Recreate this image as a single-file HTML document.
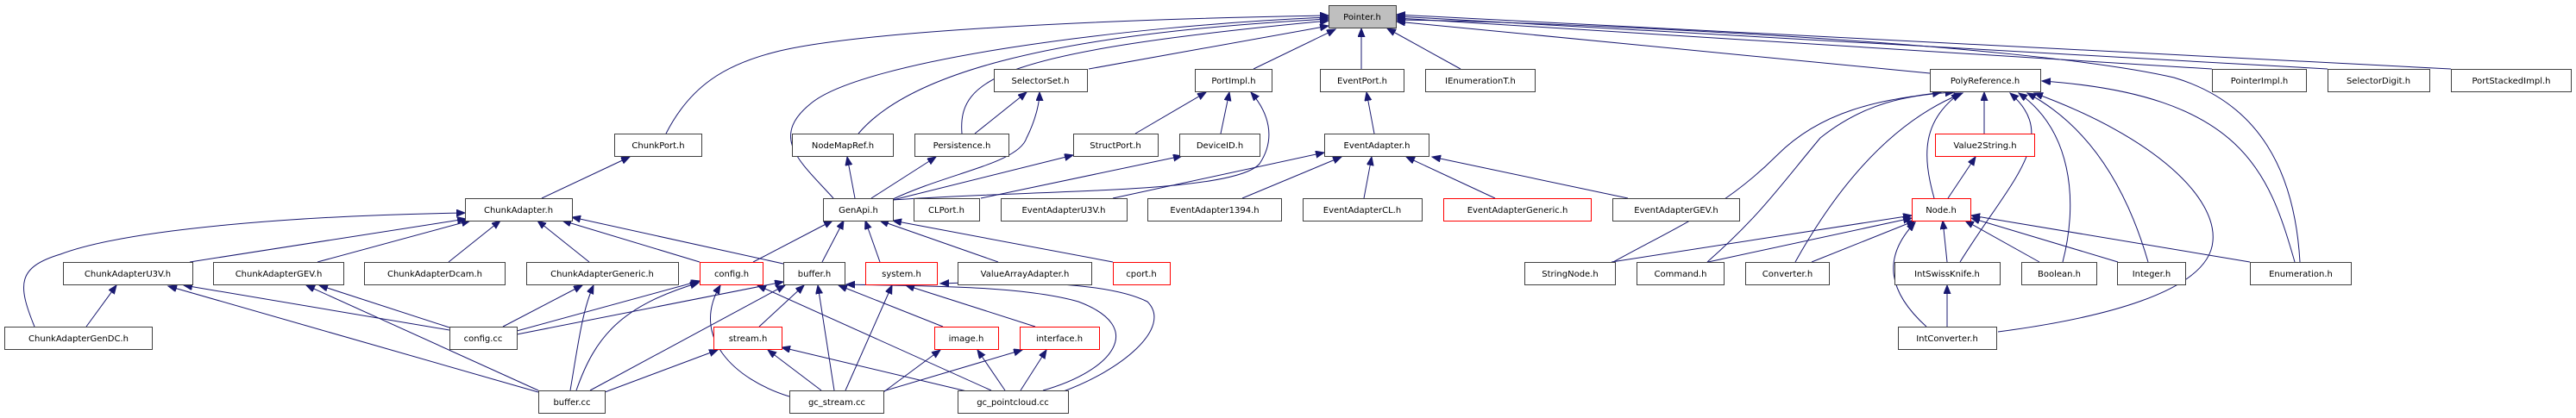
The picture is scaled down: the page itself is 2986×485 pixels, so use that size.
<!DOCTYPE html>
<html><head><meta charset="utf-8"><style>
html,body{margin:0;padding:0;background:#fff;}
svg{display:block;}
text{font-family:"DejaVu Sans","Liberation Sans",sans-serif;font-size:10px;fill:#000;}
.n{fill:#fff;stroke:#404040;stroke-width:1;}
.r{fill:#fff;stroke:#ff0000;stroke-width:1;}
.g{fill:#bfbfbf;stroke:#404040;stroke-width:1;}
path{fill:none;stroke:#191970;stroke-width:1;marker-end:url(#a);}
</style></head><body>
<svg width="2986" height="485" viewBox="0 0 2986 485" xmlns="http://www.w3.org/2000/svg">
<defs><marker id="a" markerUnits="userSpaceOnUse" markerWidth="12" markerHeight="10" refX="10" refY="4" orient="auto"><polygon points="0,0 10,4 0,8" fill="#191970" stroke="#191970"/></marker></defs>
<g>
<path d="M772,155 C800,100 840,75 900,60 C1000,35 1300,22 1540,18"/>
<path d="M966,230 C930,190 890,160 940,120 C1000,70 1300,30 1540,20"/>
<path d="M995,155 C1050,90 1200,40 1540,22"/>
<path d="M1115,155 C1110,90 1160,60 1540,24"/>
<path d="M1262,80 L1540,30"/>
<path d="M1453,80 L1548,34"/>
<path d="M1578,80 L1578,33"/>
<path d="M1693,80 L1608,33"/>
<path d="M2237,85 L1619,25"/>
<path d="M2564,80 L1619,21"/>
<path d="M2698,80 L1619,19"/>
<path d="M2841,80 L1619,17"/>
<path d="M2666,304 C2660,200 2620,120 2520,90 C2350,50 1800,25 1619,23"/>
<path d="M2660,304 C2630,200 2600,110 2367,94"/>
<path d="M1130,155 L1190,107"/>
<path d="M1033,232 C1100,200 1180,190 1190,160 C1200,140 1205,120 1205,107"/>
<path d="M1316,155 L1398,107"/>
<path d="M1415,155 L1425,107"/>
<path d="M1035,232 C1200,220 1430,225 1460,190 C1480,160 1470,130 1450,107"/>
<path d="M1137,230 L1370,181"/>
<path d="M1035,232 L1244,180"/>
<path d="M1290,230 L1535,177"/>
<path d="M1593,155 L1584,107"/>
<path d="M1440,230 L1555,182"/>
<path d="M1581,230 L1590,182"/>
<path d="M1733,230 L1630,182"/>
<path d="M1887,230 L1660,182"/>
<path d="M991,230 L982,182"/>
<path d="M1010,230 L1085,182"/>
<path d="M873,304 L965,256"/>
<path d="M953,304 L978,256"/>
<path d="M1020,304 L1003,256"/>
<path d="M1157,304 L1020,256"/>
<path d="M1290,304 L1035,256"/>
<path d="M628,230 L730,182"/>
<path d="M40,379 C20,330 20,310 70,295 C150,265 350,250 539,247"/>
<path d="M220,304 L540,254"/>
<path d="M368,304 L545,256"/>
<path d="M520,304 L580,256"/>
<path d="M683,304 L623,256"/>
<path d="M811,304 L652,256"/>
<path d="M908,306 L663,252"/>
<path d="M100,379 L135,331"/>
<path d="M521,383 L213,331"/>
<path d="M624,455 L195,332"/>
<path d="M521,380 L370,331"/>
<path d="M624,453 L355,331"/>
<path d="M583,379 L675,331"/>
<path d="M661,453 C670,400 675,360 688,331"/>
<path d="M599,384 L811,326"/>
<path d="M668,453 C690,390 720,355 810,328"/>
<path d="M915,460 C850,440 800,390 835,331"/>
<path d="M1149,453 L878,331"/>
<path d="M599,388 L908,327"/>
<path d="M684,453 L910,331"/>
<path d="M880,379 L932,331"/>
<path d="M967,453 L948,331"/>
<path d="M1093,379 L972,331"/>
<path d="M1209,453 C1290,430 1330,380 1250,350 C1180,330 1050,332 981,330"/>
<path d="M1230,455 C1300,430 1360,380 1330,350 C1290,330 1200,325 1090,329"/>
<path d="M980,453 L1034,331"/>
<path d="M1200,379 L1050,331"/>
<path d="M701,455 L832,406"/>
<path d="M952,453 L890,406"/>
<path d="M1125,455 L906,403"/>
<path d="M1024,455 L1090,406"/>
<path d="M1165,453 L1133,406"/>
<path d="M1010,458 L1185,406"/>
<path d="M1183,453 L1213,406"/>
<path d="M1870,304 C1950,260 2000,240 2060,180 C2120,120 2200,115 2250,107"/>
<path d="M1979,304 C2040,250 2060,220 2110,160 C2160,120 2210,110 2265,107"/>
<path d="M2081,304 C2150,180 2220,130 2275,108"/>
<path d="M2242,230 C2228,180 2228,140 2272,108"/>
<path d="M2272,304 C2330,210 2390,160 2330,108"/>
<path d="M2391,304 C2410,230 2400,150 2340,108"/>
<path d="M2490,304 C2460,200 2410,140 2350,108"/>
<path d="M2316,385 C2430,370 2560,340 2565,280 C2570,230 2500,160 2358,108"/>
<path d="M2300,155 L2300,107"/>
<path d="M2258,230 L2290,182"/>
<path d="M1868,304 L2216,250"/>
<path d="M1980,304 L2216,253"/>
<path d="M2100,304 L2220,256"/>
<path d="M2257,304 L2252,256"/>
<path d="M2364,304 L2278,256"/>
<path d="M2455,304 L2285,253"/>
<path d="M2608,304 L2285,250"/>
<path d="M2233,379 C2190,340 2180,300 2220,258"/>
<path d="M2257,379 L2257,331"/>
</g>
<g text-anchor="middle">
<rect class="g" x="1540.5" y="6.5" width="78" height="26"/><text x="1579" y="23">Pointer.h</text>
<rect class="n" x="1152.5" y="80.5" width="108" height="26"/><text x="1206" y="97">SelectorSet.h</text>
<rect class="n" x="1385.5" y="80.5" width="89" height="26"/><text x="1430" y="97">PortImpl.h</text>
<rect class="n" x="1530.5" y="80.5" width="97" height="26"/><text x="1579" y="97">EventPort.h</text>
<rect class="n" x="1652.5" y="80.5" width="127" height="26"/><text x="1716" y="97">IEnumerationT.h</text>
<rect class="n" x="2237.5" y="80.5" width="128" height="26"/><text x="2301" y="97">PolyReference.h</text>
<rect class="n" x="2564.5" y="80.5" width="109" height="26"/><text x="2619" y="97">PointerImpl.h</text>
<rect class="n" x="2698.5" y="80.5" width="118" height="26"/><text x="2757" y="97">SelectorDigit.h</text>
<rect class="n" x="2841.5" y="80.5" width="139" height="26"/><text x="2911" y="97">PortStackedImpl.h</text>
<rect class="n" x="712.5" y="155.5" width="101" height="26"/><text x="763" y="172">ChunkPort.h</text>
<rect class="n" x="918.5" y="155.5" width="117" height="26"/><text x="977" y="172">NodeMapRef.h</text>
<rect class="n" x="1060.5" y="155.5" width="109" height="26"/><text x="1115" y="172">Persistence.h</text>
<rect class="n" x="1244.5" y="155.5" width="98" height="26"/><text x="1293" y="172">StructPort.h</text>
<rect class="n" x="1367.5" y="155.5" width="93" height="26"/><text x="1414" y="172">DeviceID.h</text>
<rect class="n" x="1535.5" y="155.5" width="121" height="26"/><text x="1596" y="172">EventAdapter.h</text>
<rect class="r" x="2243.5" y="155.5" width="115" height="26"/><text x="2301" y="172">Value2String.h</text>
<rect class="n" x="539.5" y="230.5" width="124" height="26"/><text x="601" y="247">ChunkAdapter.h</text>
<rect class="n" x="954.5" y="230.5" width="81" height="26"/><text x="995" y="247">GenApi.h</text>
<rect class="n" x="1059.5" y="230.5" width="76" height="26"/><text x="1097" y="247">CLPort.h</text>
<rect class="n" x="1160.5" y="230.5" width="146" height="26"/><text x="1233" y="247">EventAdapterU3V.h</text>
<rect class="n" x="1330.5" y="230.5" width="155" height="26"/><text x="1408" y="247">EventAdapter1394.h</text>
<rect class="n" x="1510.5" y="230.5" width="138" height="26"/><text x="1579" y="247">EventAdapterCL.h</text>
<rect class="r" x="1673.5" y="230.5" width="171" height="26"/><text x="1759" y="247">EventAdapterGeneric.h</text>
<rect class="n" x="1869.5" y="230.5" width="147" height="26"/><text x="1943" y="247">EventAdapterGEV.h</text>
<rect class="r" x="2216.5" y="230.5" width="68" height="26"/><text x="2250" y="247">Node.h</text>
<rect class="n" x="73.5" y="304.5" width="150" height="26"/><text x="148" y="321">ChunkAdapterU3V.h</text>
<rect class="n" x="247.5" y="304.5" width="151" height="26"/><text x="323" y="321">ChunkAdapterGEV.h</text>
<rect class="n" x="422.5" y="304.5" width="163" height="26"/><text x="504" y="321">ChunkAdapterDcam.h</text>
<rect class="n" x="610.5" y="304.5" width="176" height="26"/><text x="698" y="321">ChunkAdapterGeneric.h</text>
<rect class="r" x="811.5" y="304.5" width="73" height="26"/><text x="848" y="321">config.h</text>
<rect class="n" x="908.5" y="304.5" width="71" height="26"/><text x="944" y="321">buffer.h</text>
<rect class="r" x="1003.5" y="304.5" width="83" height="26"/><text x="1045" y="321">system.h</text>
<rect class="n" x="1110.5" y="304.5" width="155" height="26"/><text x="1188" y="321">ValueArrayAdapter.h</text>
<rect class="r" x="1290.5" y="304.5" width="66" height="26"/><text x="1323" y="321">cport.h</text>
<rect class="n" x="1767.5" y="304.5" width="105" height="26"/><text x="1820" y="321">StringNode.h</text>
<rect class="n" x="1897.5" y="304.5" width="101" height="26"/><text x="1948" y="321">Command.h</text>
<rect class="n" x="2023.5" y="304.5" width="97" height="26"/><text x="2072" y="321">Converter.h</text>
<rect class="n" x="2196.5" y="304.5" width="122" height="26"/><text x="2257" y="321">IntSwissKnife.h</text>
<rect class="n" x="2343.5" y="304.5" width="87" height="26"/><text x="2387" y="321">Boolean.h</text>
<rect class="n" x="2454.5" y="304.5" width="79" height="26"/><text x="2494" y="321">Integer.h</text>
<rect class="n" x="2608.5" y="304.5" width="117" height="26"/><text x="2667" y="321">Enumeration.h</text>
<rect class="n" x="5.5" y="379.5" width="171" height="26"/><text x="91" y="396">ChunkAdapterGenDC.h</text>
<rect class="n" x="521.5" y="379.5" width="78" height="26"/><text x="560" y="396">config.cc</text>
<rect class="r" x="827.5" y="379.5" width="79" height="26"/><text x="867" y="396">stream.h</text>
<rect class="r" x="1083.5" y="379.5" width="74" height="26"/><text x="1120" y="396">image.h</text>
<rect class="r" x="1182.5" y="379.5" width="92" height="26"/><text x="1228" y="396">interface.h</text>
<rect class="n" x="2200.5" y="379.5" width="114" height="26"/><text x="2257" y="396">IntConverter.h</text>
<rect class="n" x="624.5" y="453.5" width="77" height="26"/><text x="663" y="470">buffer.cc</text>
<rect class="n" x="915.5" y="453.5" width="109" height="26"/><text x="970" y="470">gc_stream.cc</text>
<rect class="n" x="1110.5" y="453.5" width="128" height="26"/><text x="1174" y="470">gc_pointcloud.cc</text>
</g>
</svg>
</body></html>
